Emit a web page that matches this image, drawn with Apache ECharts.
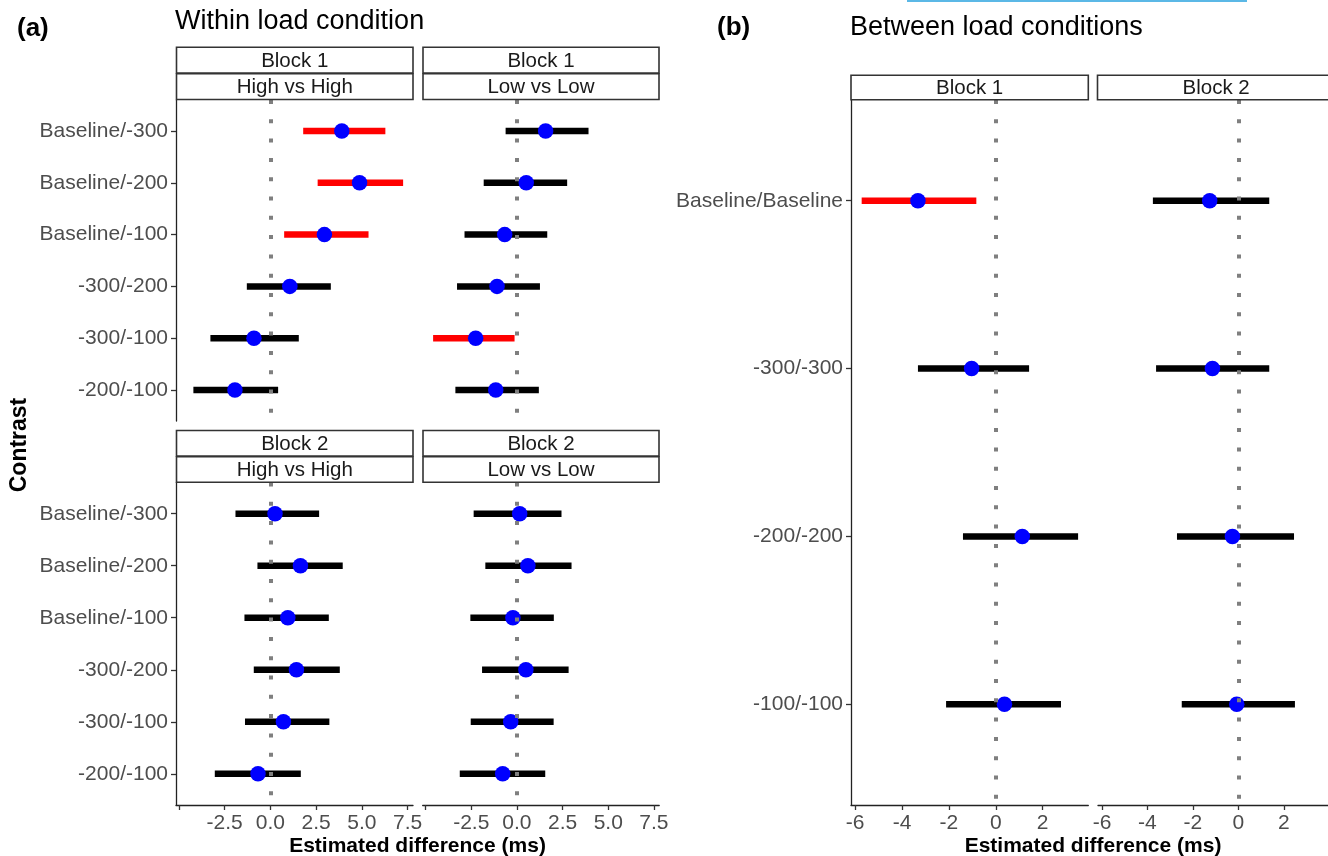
<!DOCTYPE html>
<html>
<head>
<meta charset="utf-8">
<script src="https://cdn.jsdelivr.net/npm/echarts@6/dist/echarts.min.js"></script>
<style>
html,body{margin:0;padding:0;background:#fff;}
#chart{width:1328px;height:856px;}
</style>
</head>
<body>
<div id="chart"></div>
<script>
// ---------- data ----------
const contrastsA = ['Baseline/-300','Baseline/-200','Baseline/-100','-300/-200','-300/-100','-200/-100'];
const contrastsB = ['Baseline/Baseline','-300/-300','-200/-200','-100/-100'];
const xTicksA = [-5, -2.5, 0, 2.5, 5, 7.5];
const xLabelsA = [-2.5, 0, 2.5, 5, 7.5];
const xTicksB = [-6, -4, -2, 0, 2];

// (a) Block 1, High vs High
const b1High_est = [3.90, 4.87, 2.95, 1.06, -0.90, -1.94];
const b1High_lo  = [1.79, 2.58, 0.75, -1.29, -3.28, -4.21];
const b1High_hi  = [6.28, 7.25, 5.36, 3.30, 1.55, 0.42];
// (a) Block 1, Low vs Low
const b1Low_est = [1.57, 0.51, -0.67, -1.09, -2.26, -1.16];
const b1Low_lo  = [-0.62, -1.82, -2.87, -3.28, -4.59, -3.37];
const b1Low_hi  = [3.92, 2.75, 1.66, 1.26, -0.13, 1.20];
// (a) Block 2, High vs High
const b2High_est = [0.25, 1.64, 0.95, 1.42, 0.71, -0.68];
const b2High_lo  = [-1.91, -0.71, -1.42, -0.91, -1.39, -3.04];
const b2High_hi  = [2.66, 3.95, 3.19, 3.79, 3.22, 1.66];
// (a) Block 2, Low vs Low
const b2Low_est = [0.15, 0.60, -0.22, 0.49, -0.34, -0.78];
const b2Low_lo  = [-2.37, -1.73, -2.55, -1.91, -2.53, -3.13];
const b2Low_hi  = [2.44, 2.99, 2.02, 2.83, 2.01, 1.55];
// (b) Between load conditions, Block 1
const betB1_est = [-3.32, -1.03, 1.13, 0.37];
const betB1_lo  = [-5.72, -3.32, -1.40, -2.12];
const betB1_hi  = [-0.83, 1.42, 3.51, 2.78];
// (b) Between load conditions, Block 2
const betB2_est = [-1.26, -1.14, -0.26, -0.07];
const betB2_lo  = [-3.76, -3.62, -2.70, -2.49];
const betB2_hi  = [1.36, 1.36, 2.45, 2.49];

// ---------- layout ----------
const FONT = '"Liberation Sans", Arial, sans-serif';
const panels = [
  {grid:{left:176, top:100, width:237, height:321}, est:b1High_est, lo:b1High_lo, hi:b1High_hi, cats:contrastsA, ticks:xTicksA, labels:xLabelsA, xMin:-5.16, xMax:7.79, showY:true, showX:false, dec:1},
  {grid:{left:422.7, top:100, width:236.5, height:321}, est:b1Low_est, lo:b1Low_lo, hi:b1Low_hi, cats:contrastsA, ticks:xTicksA, labels:xLabelsA, xMin:-5.16, xMax:7.79, showY:false, showX:false, dec:1},
  {grid:{left:176, top:482.5, width:237, height:322.5}, est:b2High_est, lo:b2High_lo, hi:b2High_hi, cats:contrastsA, ticks:xTicksA, labels:xLabelsA, xMin:-5.16, xMax:7.79, showY:true, showX:true, dec:1},
  {grid:{left:422.7, top:482.5, width:236.5, height:322.5}, est:b2Low_est, lo:b2Low_lo, hi:b2Low_hi, cats:contrastsA, ticks:xTicksA, labels:xLabelsA, xMin:-5.16, xMax:7.79, showY:false, showX:true, dec:1},
  {grid:{left:851, top:100, width:237.3, height:705}, est:betB1_est, lo:betB1_lo, hi:betB1_hi, cats:contrastsB, ticks:xTicksB, labels:xTicksB, xMin:-6.175, xMax:3.945, showY:true, showX:true, dec:0},
  {grid:{left:1098, top:100, width:237.3, height:705}, est:betB2_est, lo:betB2_lo, hi:betB2_hi, cats:contrastsB, ticks:xTicksB, labels:xTicksB, xMin:-6.175, xMax:3.945, showY:false, showX:true, dec:0}
];

const grids = [], xAxes = [], yAxes = [], series = [];
panels.forEach((p, i) => {
  grids.push(Object.assign({containLabel:false}, p.grid));
  const n = p.cats.length;
  const idx = p.cats.map((c, k) => k);
  xAxes.push({
    type:'value', gridIndex:i, min:p.xMin, max:p.xMax,
    splitLine:{show:false},
    axisLine:{show:p.showX, onZero:false, lineStyle:{color:'#222', width:1.3}},
    axisTick:{show:p.showX, length:5, customValues:p.ticks, lineStyle:{color:'#333', width:1.3}},
    axisLabel:{show:p.showX, customValues:p.labels, margin:8, color:'#4D4D4D', fontSize:21, fontFamily:FONT,
      formatter:(v) => Number(v).toFixed(p.dec)}
  });
  yAxes.push({
    type:'value', gridIndex:i, min:-0.6, max:n - 0.4, inverse:true,
    splitLine:{show:false},
    axisLine:{show:p.showY, onZero:false, lineStyle:{color:'#222', width:1.3}},
    axisTick:{show:p.showY, length:5, customValues:idx, lineStyle:{color:'#333', width:1.3}},
    axisLabel:{show:p.showY, customValues:idx, margin:8, color:'#4D4D4D', fontSize:21, fontFamily:FONT,
      formatter:(v) => p.cats[Math.round(v)]}
  });
  // confidence interval ranges
  series.push({
    type:'custom', xAxisIndex:i, yAxisIndex:i, z:1, silent:true,
    data:p.cats.map((c, k) => [p.lo[k], p.hi[k], k]),
    encode:{x:[0,1], y:2},
    renderItem:(params, api) => {
      const lo = api.value(0), hi = api.value(1), k = api.value(2);
      const a = api.coord([lo, k]), b = api.coord([hi, k]);
      const sig = lo > 0 || hi < 0;
      return {type:'line', shape:{x1:a[0], y1:a[1], x2:b[0], y2:b[1]},
        style:{stroke: sig ? '#FF0000' : '#000000', lineWidth:6.5, lineCap:'butt'}};
    }
  });
  // dotted zero reference line
  series.push({
    type:'line', xAxisIndex:i, yAxisIndex:i, z:2, data:[], silent:true,
    markLine:{silent:true, symbol:['none','none'], animation:false, label:{show:false},
      lineStyle:{color:'#7F7F7F', width:4, type:[4, 15.3], cap:'butt'},
      data:[{xAxis:0}]}
  });
  // point estimates
  series.push({
    type:'scatter', xAxisIndex:i, yAxisIndex:i, z:3, silent:true,
    symbol:'circle', symbolSize:15.5,
    itemStyle:{color:'#0000FF', opacity:1},
    data:p.cats.map((c, k) => [p.est[k], k])
  });
});

// strips
function strip(x, y, w, h, txt){
  return [
    {type:'rect', shape:{x:x, y:y, width:w, height:h}, style:{fill:'#fff', stroke:'#333', lineWidth:1.6}, z:10},
    {type:'text', x:x + w/2, y:y + h/2 + 1, style:{text:txt, fill:'#1A1A1A', font:'20.5px ' + FONT, textAlign:'center', textVerticalAlign:'middle'}, z:11}
  ];
}
let g = [];
g = g.concat(strip(176.5, 47.3, 236.5, 25.7, 'Block 1'));
g = g.concat(strip(176.5, 73.8, 236.5, 25.7, 'High vs High'));
g = g.concat(strip(423, 47.3, 236, 25.7, 'Block 1'));
g = g.concat(strip(423, 73.8, 236, 25.7, 'Low vs Low'));
g = g.concat(strip(176.5, 430.5, 236.5, 25.5, 'Block 2'));
g = g.concat(strip(176.5, 456.8, 236.5, 25.5, 'High vs High'));
g = g.concat(strip(423, 430.5, 236, 25.5, 'Block 2'));
g = g.concat(strip(423, 456.8, 236, 25.5, 'Low vs Low'));
g = g.concat(strip(851, 75.3, 237.3, 24.5, 'Block 1'));
g = g.concat(strip(1097.5, 75.3, 237.3, 24.5, 'Block 2'));

// titles and axis titles
g.push({type:'text', x:17, y:29, style:{text:'(a)', fill:'#000', font:'bold 26px ' + FONT, textVerticalAlign:'middle'}});
g.push({type:'text', x:175, y:22, style:{text:'Within load condition', fill:'#000', font:'27px ' + FONT, textVerticalAlign:'middle'}});
g.push({type:'text', x:717, y:28, style:{text:'(b)', fill:'#000', font:'bold 26px ' + FONT, textVerticalAlign:'middle'}});
g.push({type:'text', x:850, y:28, style:{text:'Between load conditions', fill:'#000', font:'27px ' + FONT, textVerticalAlign:'middle'}});
g.push({type:'text', x:417.5, y:846, style:{text:'Estimated difference (ms)', fill:'#000', font:'bold 21px ' + FONT, textAlign:'center', textVerticalAlign:'middle'}});
g.push({type:'text', x:1093, y:846, style:{text:'Estimated difference (ms)', fill:'#000', font:'bold 21px ' + FONT, textAlign:'center', textVerticalAlign:'middle'}});
g.push({type:'text', x:20, y:445, rotation:Math.PI/2, style:{text:'Contrast', fill:'#000', font:'bold 23px ' + FONT, textAlign:'center', textVerticalAlign:'middle'}});
// light-blue edge artifact at top of the figure
g.push({type:'rect', shape:{x:907, y:0, width:340, height:2}, style:{fill:'#5BB8E6'}});

const chart = echarts.init(document.getElementById('chart'), null, {renderer:'canvas'});
chart.setOption({
  animation:false,
  backgroundColor:'#ffffff',
  grid:grids, xAxis:xAxes, yAxis:yAxes, series:series,
  graphic:{elements:g}
});
</script>
</body>
</html>
